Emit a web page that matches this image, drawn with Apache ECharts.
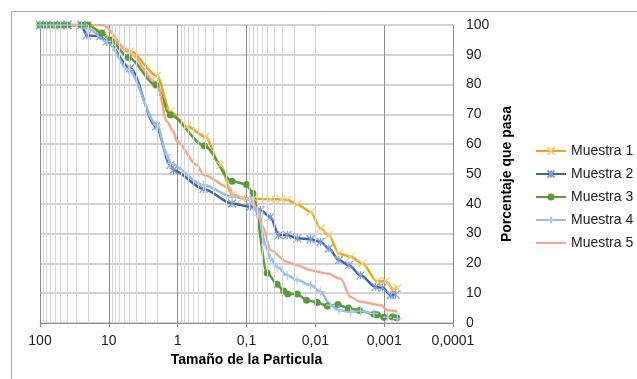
<!DOCTYPE html>
<html>
<head>
<meta charset="utf-8">
<script src="https://cdn.jsdelivr.net/npm/echarts@6/dist/echarts.min.js"></script>
<style>
html,body{margin:0;padding:0;background:#fff;}
#c{width:637px;height:379px;}
</style>
</head>
<body>
<div id="c"></div>
<script>
// [tamaño (mm), % que pasa]
var muestra1 = [[100,100],[80,100],[63,100],[50,100],[40,100],[25,100],[20,100],[12.6,97.5],[9.57,95.5],[4.9,91.1],[2.0,83],[1.28,71],[0.73,66],[0.396,62.5],[0.24,53],[0.162,43],[0.116,41.8],[0.0786,41.8],[0.0449,41.5],[0.0321,41.5],[0.0256,41.3],[0.0183,39.8],[0.0117,37.3],[0.00839,31.7],[0.00636,29.5],[0.00455,23.3],[0.00308,22.2],[0.00208,20],[0.00126,14],[0.00095,14],[0.000735,11.3],[0.000643,11.8]];
var muestra2 = [[100,100],[80,100],[63,100],[50,100],[40,100],[25,100],[20.9,96.5],[13.4,96.2],[10.7,94.5],[4.9,85.5],[2.07,66],[1.28,53],[1.15,51.3],[0.42,45],[0.162,40.1],[0.0877,39],[0.0628,37.9],[0.0449,35.6],[0.034,29.5],[0.0256,29.5],[0.0183,28.4],[0.0117,28.1],[0.00839,27.2],[0.00636,25],[0.00455,21.1],[0.00325,19.4],[0.0022,16],[0.00133,12.1],[0.00106,11.8],[0.000804,9.3],[0.000681,9.5]];
var muestra3 = [[100,100],[80,100],[63,100],[50,100],[40,100],[25,100],[20,100],[12.6,97.3],[9.57,95],[5.19,89.1],[2.07,79.9],[1.28,69.8],[0.41,59.5],[0.162,47.6],[0.1,46.5],[0.0812,43.5],[0.0501,16.8],[0.0359,13],[0.0288,10.7],[0.0251,9.75],[0.0183,9.75],[0.0134,7.6],[0.00938,6.9],[0.00671,5.7],[0.0047,6.2],[0.00332,5],[0.00228,4.2],[0.00141,2.9],[0.00126,2.8],[0.00101,1.9],[0.00076,2],[0.000658,1.8]];
var muestra4 = [[100,100],[80,100],[63,100],[50,100],[40,100],[25,100],[20.9,99],[10.7,94.5],[5.19,85],[2.0,66.5],[1.43,56.4],[1.28,53.5],[0.42,46.3],[0.162,42.4],[0.0877,41.8],[0.0664,36.2],[0.0531,26.1],[0.0449,21.7],[0.0359,18.8],[0.0256,16],[0.0183,14.4],[0.0117,12.7],[0.00839,10.5],[0.00601,6],[0.00455,4.3],[0.00308,3.7],[0.0022,4],[0.00141,3.2],[0.000898,2],[0.000643,1.5]];
var muestra5 = [[100,100],[80,100],[63,100],[50,100],[40,100],[25,100],[12.1,100],[5.19,91],[2.0,80.5],[1.43,67.6],[1.15,64.2],[1.02,60.9],[0.524,53],[0.42,49.7],[0.172,45.2],[0.162,43],[0.0877,41.3],[0.0701,38.5],[0.0562,31.7],[0.0449,24.4],[0.0256,20.5],[0.0183,19.4],[0.0117,17.7],[0.00671,16.6],[0.0043,14.9],[0.00308,8.7],[0.0022,7.1],[0.00112,6],[0.000898,4.3],[0.000643,3.9]];
var seriesNames = ['Muestra 1','Muestra 2','Muestra 3','Muestra 4','Muestra 5'];
var xTickLabels = ['0,0001','0,001','0,01','0,1','1','10','100'];
var yTicks = [0,10,20,30,40,50,60,70,80,90,100];

var FONT = '"Liberation Sans", Arial, sans-serif';
var minorValues = [];
for (var k = -4; k < 2; k++) {
  for (var m = 2; m <= 9; m++) minorValues.push(m * Math.pow(10, k));
}
var SYM_X = 'path://M0,0L10,10M10,0L0,10';
var SYM_STAR = 'path://M5,0L5,10M0,0L10,10M10,0L0,10';
var SYM_PLUS = 'path://M5,0L5,10M0,5L10,5';
var SYM_NONE = 'path://M0,0L10,10';

function mk(name, data, color, symbol, symColor, symSize, kind) {
  var item;
  if (kind === 'fill') item = {color: color, borderWidth: 0};
  else if (kind === 'none') item = {color: 'none', borderColor: 'rgba(0,0,0,0)', borderWidth: 0, opacity: 0};
  else item = {color: 'none', borderColor: symColor, borderWidth: 1.2};
  return {
    name: name, type: 'line', data: data, smooth: 0.3, smoothMonotone: 'x',
    symbol: symbol, symbolSize: symSize, showSymbol: kind !== 'none',
    lineStyle: {color: color, width: 2.5},
    itemStyle: item,
    emphasis: {disabled: true}, z: 3
  };
}

var chart = echarts.init(document.getElementById('c'), null, {renderer: 'canvas'});
chart.setOption({
  animation: false,
  backgroundColor: '#fff',
  textStyle: {fontFamily: FONT},
  graphic: [{type: 'rect', shape: {x: 11.5, y: 11.5, width: 640, height: 390}, style: {fill: 'none', stroke: '#a6a6a6', lineWidth: 1}, silent: true, z: -1}],
  grid: {left: 40, right: 184, top: 25, bottom: 56, containLabel: false},
  legend: {
    orient: 'vertical', left: 530, top: 139, itemWidth: 30, itemHeight: 9, itemGap: 9,
    textStyle: {fontSize: 14, color: '#222', fontFamily: FONT},
    data: seriesNames
  },
  xAxis: {
    type: 'log', logBase: 10, min: 0.0001, max: 100, inverse: true, position: 'bottom',
    axisLine: {show: true, lineStyle: {color: '#8c8c8c', width: 1}},
    axisTick: {show: true, length: 4, lineStyle: {color: '#8c8c8c'}},
    splitLine: {show: true, lineStyle: {color: '#8c8c8c', width: 1}},
    axisLabel: {fontSize: 14, color: '#222', margin: 11, fontFamily: FONT,
      formatter: function (v) { return xTickLabels[Math.round(Math.log10(v)) + 4]; }},
    name: 'Tamaño de la Particula', nameLocation: 'middle', nameGap: 30,
    nameTextStyle: {fontSize: 14, fontWeight: 'bold', color: '#000', fontFamily: FONT}
  },
  yAxis: {
    type: 'value', position: 'right', min: yTicks[0], max: yTicks[yTicks.length - 1], interval: 10,
    axisLine: {show: false}, axisTick: {show: false},
    splitLine: {show: true, lineStyle: {color: '#c4c4c4', width: 1.5}},
    axisLabel: {fontSize: 14, color: '#222', margin: 13, fontFamily: FONT},
    name: 'Porcentaje que pasa', nameLocation: 'middle', nameRotate: 90, nameGap: 39,
    nameTextStyle: {fontSize: 14, fontWeight: 'bold', color: '#000', fontFamily: FONT}
  },
  series: [
    {
      name: 'minor', type: 'line', data: [], z: 1, silent: true,
      markLine: {
        silent: true, symbol: ['none', 'none'], label: {show: false},
        lineStyle: {color: '#d6d6d6', width: 1, type: 'solid'},
        emphasis: {disabled: true}, animation: false,
        data: minorValues.map(function (v) { return {xAxis: v}; })
      }
    },
    mk(seriesNames[0], muestra1, '#E8A91A', SYM_X, '#F3CD72', 8, 'stroke'),
    mk(seriesNames[1], muestra2, '#3D63B0', SYM_STAR, '#7E9EDC', 8, 'stroke'),
    mk(seriesNames[2], muestra3, '#5B9B3A', 'circle', '#5B9B3A', 7, 'fill'),
    mk(seriesNames[3], muestra4, '#95BDE8', SYM_PLUS, '#A9CBEF', 9, 'stroke'),
    mk(seriesNames[4], muestra5, '#F5A98C', SYM_NONE, '#F5A98C', 0, 'none')
  ]
});
</script>
</body>
</html>
